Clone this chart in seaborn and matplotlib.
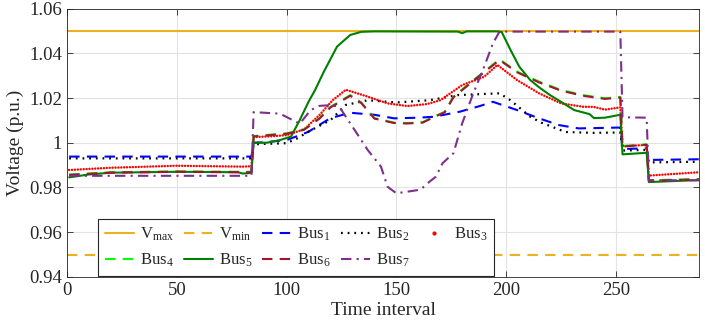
import matplotlib
matplotlib.use("Agg")
import matplotlib.pyplot as plt
from matplotlib.lines import Line2D
import seaborn as sns

# voltage limits
V_MAX = 1.05
V_MIN = 0.95

# Bus 1
t_bus1 = [1, 84, 85, 90, 100, 105, 110, 115, 120, 129, 140, 149, 160, 167, 179, 188, 194, 205, 215, 224, 233, 243, 252, 253, 264, 265, 288]
v_bus1 = [0.9938, 0.9938, 1.0000, 1.0002, 1.0012, 1.0030, 1.0049, 1.0080, 1.0110, 1.0134, 1.0125, 1.0109, 1.0112, 1.0116, 1.0139, 1.0164, 1.0183, 1.0146, 1.0109, 1.0079, 1.0064, 1.0066, 1.0068, 0.9972, 0.9975, 0.9923, 0.9926]

# Bus 2
t_bus2 = [1, 84, 85, 100, 105, 110, 120, 127, 137, 150, 165, 178, 197, 202, 211, 216, 227, 240, 252, 253, 264, 265, 288]
v_bus2 = [0.9930, 0.9930, 0.9993, 0.9998, 1.0020, 1.0050, 1.0101, 1.0169, 1.0190, 1.0180, 1.0190, 1.0213, 1.0221, 1.0190, 1.0116, 1.0090, 1.0048, 1.0044, 1.0046, 0.9965, 0.9968, 0.9912, 0.9915]

# Bus 3
t_bus3 = [1, 20, 50, 80, 84, 85, 95, 100, 108, 115, 121, 127, 137, 146, 155, 164, 170, 180, 190, 196, 205, 215, 225, 235, 240, 245, 252, 253, 264, 265, 288]
v_bus3 = [0.9878, 0.9888, 0.9897, 0.9893, 0.9895, 1.0025, 1.0030, 1.0034, 1.0060, 1.0124, 1.0190, 1.0237, 1.0206, 1.0176, 1.0164, 1.0173, 1.0190, 1.0258, 1.0295, 1.0348, 1.0280, 1.0221, 1.0176, 1.0161, 1.0160, 1.0148, 1.0158, 0.9985, 0.9990, 0.9853, 0.9868]

# Bus 4
t_bus4 = [1, 20, 50, 80, 84, 85, 95, 100, 108, 115, 120, 129, 134, 140, 149, 155, 162, 167, 172, 176, 182, 187, 197, 205, 215, 225, 235, 245, 252, 253, 264, 265, 288]
v_bus4 = [0.9858, 0.9868, 0.9872, 0.9870, 0.9870, 1.0030, 1.0038, 1.0042, 1.0060, 1.0110, 1.0160, 1.0213, 1.0180, 1.0110, 1.0090, 1.0088, 1.0092, 1.0116, 1.0138, 1.0206, 1.0255, 1.0295, 1.0373, 1.0318, 1.0273, 1.0236, 1.0213, 1.0199, 1.0205, 0.9985, 0.9993, 0.9832, 0.9838]

# Bus 5
t_bus5 = [1, 10, 20, 50, 78, 80, 84, 85, 91, 97, 102, 106, 110, 113, 117, 123, 129, 134, 140, 178, 180, 182, 196, 198, 202, 206, 211, 215, 220, 225, 231, 238, 240, 245, 252, 253, 264, 265, 288]
v_bus5 = [0.9845, 0.9858, 0.9866, 0.9870, 0.9868, 0.9862, 0.9865, 1.0000, 1.0000, 1.0012, 1.0027, 1.0101, 1.0183, 1.0236, 1.0318, 1.0430, 1.0482, 1.0496, 1.0498, 1.0497, 1.0490, 1.0498, 1.0498, 1.0495, 1.0415, 1.0340, 1.0280, 1.0248, 1.0213, 1.0183, 1.0146, 1.0128, 1.0110, 1.0112, 1.0125, 0.9948, 0.9955, 0.9824, 0.9833]

# Bus 6
t_bus6 = [1, 20, 50, 80, 84, 85, 95, 100, 108, 115, 120, 129, 134, 140, 149, 155, 162, 167, 172, 176, 182, 187, 197, 205, 215, 225, 235, 245, 252, 253, 264, 265, 288]
v_bus6 = [0.9856, 0.9866, 0.9870, 0.9868, 0.9868, 1.0028, 1.0036, 1.0040, 1.0058, 1.0108, 1.0158, 1.0210, 1.0178, 1.0108, 1.0088, 1.0086, 1.0090, 1.0114, 1.0136, 1.0203, 1.0252, 1.0292, 1.0370, 1.0315, 1.0270, 1.0233, 1.0210, 1.0196, 1.0202, 0.9983, 0.9991, 0.9830, 0.9836]

# Bus 7
t_bus7 = [1, 84, 85, 97, 102, 106, 111, 115, 120, 124, 132, 137, 143, 146, 150, 155, 161, 165, 168, 171, 176, 180, 185, 190, 194, 197, 252, 253, 264, 265, 288]
v_bus7 = [0.9852, 0.9852, 1.0137, 1.0130, 1.0105, 1.0085, 1.0146, 1.0165, 1.0168, 1.0161, 1.0042, 0.9967, 0.9893, 0.9803, 0.9774, 0.9781, 0.9790, 0.9825, 0.9848, 0.9908, 0.9953, 1.0087, 1.0220, 1.0340, 1.0445, 1.0497, 1.0497, 1.0114, 1.0112, 0.9832, 0.9832]

labels = ["V$_{\\mathrm{max}}$", "V$_{\\mathrm{min}}$", "Bus$_1$", "Bus$_2$", "Bus$_3$",
          "Bus$_4$", "Bus$_5$", "Bus$_6$", "Bus$_7$"]

sns.set_style("ticks")
plt.rcParams['font.family'] = ['Liberation Serif', 'DejaVu Serif']
plt.rcParams['mathtext.fontset'] = 'custom'
plt.rcParams['mathtext.rm'] = 'Liberation Serif'
plt.rcParams['mathtext.it'] = 'Liberation Serif:italic'

orange = '#EDB120'
styles = [
    dict(color='blue', linestyle=(0, (5, 3.5)), lw=1.5),
    dict(color='black', linestyle=(0, (0.8, 2.2)), lw=1.6),
    dict(color='red', linestyle=(0, (0.01, 1.15)), lw=1.8, dash_capstyle='round'),
    dict(color='#00FF00', linestyle=(0, (5, 3.5)), lw=1.5),
    dict(color='#008000', linestyle='-', lw=1.5),
    dict(color='#A2142F', linestyle=(0, (5, 3.5)), lw=1.5),
    dict(color='#7E2F8E', linestyle=(0, (5, 2.5, 1, 2.5)), lw=1.5),
]
series = [(t_bus1, v_bus1), (t_bus2, v_bus2), (t_bus3, v_bus3), (t_bus4, v_bus4),
          (t_bus5, v_bus5), (t_bus6, v_bus6), (t_bus7, v_bus7)]

fig = plt.figure(figsize=(7.05, 3.3), dpi=100)
ax = fig.add_axes([0.095, 0.161, 0.897, 0.813])

ax.axhline(V_MAX, color=orange, lw=1.5, zorder=1)
ax.axhline(V_MIN, color=orange, lw=1.5, linestyle=(0, (5, 3.5)), zorder=1)

for (t, v), st in zip(series, styles):
    sns.lineplot(x=t, y=v, ax=ax, sort=False, **st)

ax.set_xlim(0, 288)
ax.set_ylim(0.94, 1.06)
ax.set_xticks([0, 50, 100, 150, 200, 250])
ax.set_yticks([0.94, 0.96, 0.98, 1.0, 1.02, 1.04, 1.06])
ax.set_yticklabels(['0.94', '0.96', '0.98', '1', '1.02', '1.04', '1.06'])
ax.grid(True, color='#e3e3e3', lw=0.8)
ax.set_axisbelow(True)
ax.tick_params(direction='in', top=True, right=True, labelsize=13.5, length=4,
               width=0.6, color='#262626', labelcolor='#262626')
for sp in ax.spines.values():
    sp.set_color('#262626')
    sp.set_linewidth(0.6)
ax.set_xlabel("Time interval", fontsize=14, color='#262626', labelpad=2)
ax.set_ylabel("Voltage (p.u.)", fontsize=14, color='#262626', labelpad=4)

# legend handles, ordered so rows read left to right
h = [Line2D([], [], color=orange, lw=1.5),
     Line2D([], [], color=orange, lw=1.5, linestyle=(0, (5, 3.5)))]
for i, st in enumerate(styles):
    if i == 2:
        h.append(Line2D([], [], color='red', marker='.', ls='none', markersize=4))
    else:
        h.append(Line2D([], [], **st))
order = [0, 5, 1, 6, 2, 7, 3, 8, 4]
leg = ax.legend([h[i] for i in order], [labels[i] for i in order], ncol=5,
                loc='lower left', bbox_to_anchor=(0.049, 0.004), fontsize=12,
                frameon=True, fancybox=False, edgecolor='#262626', framealpha=1,
                handlelength=1.75, handletextpad=0.35, columnspacing=0.6,
                borderpad=0.4, labelspacing=0.5, borderaxespad=0)
leg.get_frame().set_linewidth(0.8)

fig.savefig("out.png", dpi=100)
